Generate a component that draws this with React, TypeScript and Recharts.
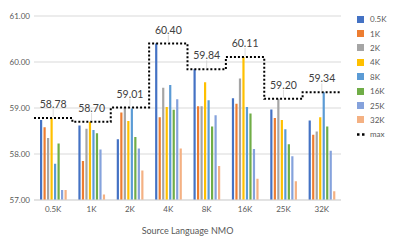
import {
  ComposedChart,
  Bar,
  Line,
  XAxis,
  YAxis,
  CartesianGrid,
} from 'recharts'

const categories = ['0.5K', '1K', '2K', '4K', '8K', '16K', '25K', '32K']

const seriesNames = ['0.5K', '1K', '2K', '4K', '8K', '16K', '25K', '32K']
const seriesColors = ['#4472C4', '#ED7D31', '#A5A5A5', '#FFC000', '#5B9BD5', '#70AD47', '#85A2DC', '#F4B183']

// one array per target-language size, values per source category
const s05 = [58.74, 58.62, 58.32, 60.40, 59.84, 59.21, 58.97, 58.73]
const s1 = [58.58, 57.85, 58.90, 58.80, 59.04, 59.09, 58.78, 58.42]
const s2 = [58.35, 58.55, 59.01, 59.44, 59.04, 59.64, 59.20, 58.49]
const s4 = [58.78, 58.70, 58.72, 59.02, 59.56, 60.11, 58.74, 58.80]
const s8 = [57.79, 58.52, 58.99, 59.50, 59.17, 59.02, 58.54, 59.34]
const s16 = [58.23, 58.45, 58.37, 58.96, 58.60, 58.88, 58.21, 58.60]
const s25 = [57.22, 58.10, 58.12, 59.19, 58.84, 58.11, 57.95, 58.07]
const s32 = [57.22, 57.12, 57.64, 58.12, 57.74, 57.46, 57.41, 57.19]

const maxValues = [58.78, 58.70, 59.01, 60.40, 59.84, 60.11, 59.20, 59.34]

const yTicks = [57, 58, 59, 60, 61]

const allSeries = [s05, s1, s2, s4, s8, s16, s25, s32]

const rows = categories.map((c, i) => {
  const r: Record<string, number | string> = { cat: c }
  allSeries.forEach((s, j) => {
    r['v' + j] = s[i]
  })
  return r
})

// step line over a numeric axis 0..8 so steps land on category edges
const maxLine = [
  { x: 0, y: maxValues[0] },
  ...maxValues.map((m, i) => ({ x: i + 0.5, y: m, lbl: m })),
  { x: 8, y: maxValues[maxValues.length - 1] },
]

const FONT = 'Lato, "Liberation Sans", sans-serif'

// eslint-disable-next-line @typescript-eslint/no-explicit-any
function MaxLabel({ x, y, value }: any) {
  if (value === undefined || value === null) return null
  return (
    <g>
      <line x1={x} x2={x} y1={y - 9} y2={y - 1} stroke="#d0d0d0" strokeWidth={0.8} />
      <text
        x={x}
        y={y - 14}
        textAnchor="middle"
        dominantBaseline="central"
        fontFamily={FONT}
        fontSize={10.5}
        fill="#404040"
      >
        {Number(value).toFixed(2)}
      </text>
    </g>
  )
}

function LegendBox() {
  return (
    <div style={{ position: 'absolute', left: 357, top: 12, fontFamily: FONT, fontSize: 8, color: '#595959' }}>
      {seriesNames.map((n, i) => (
        <div key={n} style={{ display: 'flex', alignItems: 'center', height: 14.4 }}>
          <div style={{ width: 7, height: 7, background: seriesColors[i], marginRight: 6 }} />
          <span>{n}</span>
        </div>
      ))}
      <div style={{ display: 'flex', alignItems: 'center', height: 14.4 }}>
        <svg width={8} height={3} style={{ marginRight: 5 }}>
          <line x1={0} x2={8} y1={1.5} y2={1.5} stroke="#000" strokeWidth={2.5} strokeDasharray="2.5 2.5" />
        </svg>
        <span>max</span>
      </div>
    </div>
  )
}

export default function App() {
  return (
    <div style={{ position: 'absolute', left: 0, top: 0, width: 397, height: 245, background: '#fff' }}>
      <ComposedChart
        width={397}
        height={245}
        data={rows}
        margin={{ top: 16, right: 56, left: 0, bottom: 11 }}
        barGap={1.3}
      >
        <CartesianGrid stroke="#d9d9d9" vertical={false} />
        <XAxis
          dataKey="cat"
          xAxisId="cat"
          height={34}
          tickLine={false}
          tickSize={0}
          tickMargin={6}
          axisLine={{ stroke: '#d9d9d9' }}
          tick={{ fontFamily: FONT, fontSize: 8, fill: '#595959' }}
          label={{ value: 'Source Language NMO', position: 'insideBottom', offset: 0, fontFamily: FONT, fontSize: 9, fill: '#595959' }}
        />
        <XAxis xAxisId="m" type="number" dataKey="x" domain={[0, 8]} hide allowDataOverflow />
        <YAxis
          width={34}
          domain={[57, 61]}
          ticks={yTicks}
          tickFormatter={(v) => Number(v).toFixed(2)}
          tickLine={false}
          tickSize={0}
          tickMargin={4}
          axisLine={false}
          tick={{ fontFamily: FONT, fontSize: 8, fill: '#595959' }}
          allowDataOverflow
        />
        {seriesNames.map((n, j) => (
          <Bar
            key={n}
            xAxisId="cat"
            dataKey={'v' + j}
            fill={seriesColors[j]}
            barSize={2.2}
            isAnimationActive={false}
          />
        ))}
        <Line
          xAxisId="m"
          data={maxLine}
          dataKey="y"
          type="step"
          stroke="#000"
          strokeWidth={2}
          strokeDasharray="2 2"
          dot={false}
          activeDot={false}
          isAnimationActive={false}
          label={(p: any) => <MaxLabel key={'l' + p.index} x={p.x} y={p.y} value={maxLine[p.index]?.lbl} />}
        />
      </ComposedChart>
      <LegendBox />
    </div>
  )
}
